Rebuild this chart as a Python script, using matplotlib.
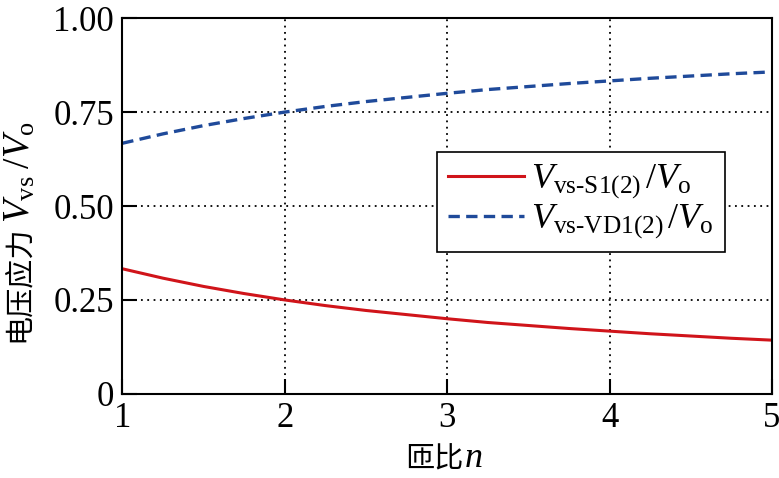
import matplotlib
matplotlib.use('Agg')
import matplotlib.pyplot as plt

plt.rcParams['font.family'] = ['Liberation Serif', 'Noto Sans CJK SC']
plt.rcParams['mathtext.fontset'] = 'custom'
plt.rcParams['mathtext.rm'] = 'Liberation Serif'
plt.rcParams['mathtext.it'] = 'Liberation Serif:italic'

# turns ratio n and normalised voltage stress
n = [1, 1.25, 1.5, 1.75, 2, 2.25, 2.5, 2.75, 3, 3.25, 3.5, 3.75, 4, 4.25, 4.5, 4.75, 5]
v_s = [0.333, 0.308, 0.286, 0.267, 0.25, 0.235, 0.222, 0.211, 0.2,
       0.190, 0.182, 0.174, 0.167, 0.160, 0.154, 0.148, 0.143]
v_vd = [0.667, 0.692, 0.714, 0.733, 0.75, 0.765, 0.778, 0.789, 0.8,
        0.810, 0.818, 0.826, 0.833, 0.840, 0.846, 0.852, 0.857]
xticks = [1, 2, 3, 4, 5]
yticks = [0, 0.25, 0.5, 0.75, 1.0]
ylabels = ['0', '0.25', '0.50', '0.75', '1.00']

W, H = 779, 478
fig = plt.figure(figsize=(W / 100, H / 100), dpi=100)
ax = fig.add_axes([0.157, 0.176, 0.834, 0.786])

ax.plot(n, v_s, color='#d0141a', lw=2.2,
        label=r'$V_{\rm vs\text{-}S1(2)}\,/V_{\rm o}$')
ax.plot(n, v_vd, color='#1f4a9a', lw=2.4, ls=(0, (3.4, 1.9)),
        label=r'$V_{\rm vs\text{-}VD1(2)}\,/V_{\rm o}$')

ax.set_xlim(1, 5)
ax.set_ylim(0, 1)
ax.set_xticks(xticks)
ax.set_yticks(yticks)
ax.set_yticklabels(ylabels)
ax.grid(True, color='black', ls=(0, (1, 2.5)), lw=1.3)
ax.tick_params(direction='in', length=11, width=1.5, labelsize=25, pad=6)
for s in ax.spines.values():
    s.set_linewidth(1.5)

leg = ax.legend(loc='center', bbox_to_anchor=(0.706, 0.511), fontsize=26,
                frameon=True, fancybox=False, edgecolor='black', framealpha=1,
                handlelength=2.1, handletextpad=0.2, borderpad=0.3,
                labelspacing=0.05, borderaxespad=0)
leg.get_frame().set_linewidth(1.2)

# axis labels: Chinese part and math part drawn as separate texts
cjk = ['Noto Sans CJK SC']
fig.canvas.draw()
r = fig.canvas.get_renderer()

t1 = fig.text(27 / W, 1 - 342 / H, '电压应力', fontsize=21, family=cjk,
              rotation=90, rotation_mode='anchor', ha='left', va='baseline')
e = t1.get_window_extent(r)
fig.text(30 / W, (e.y1 + 3) / H, r'$V_{\rm vs}\;/V_{\rm o}$', fontsize=27,
         rotation=90, rotation_mode='anchor', ha='left', va='baseline')

t2 = fig.text(405 / W, 1 - 467 / H, '匝比', fontsize=21, family=cjk,
              ha='left', va='baseline')
e = t2.get_window_extent(r)
fig.text((e.x1 + 1) / W, 1 - 467 / H, r'$n$', fontsize=26,
         ha='left', va='baseline')

fig.savefig('out.png', dpi=100)
